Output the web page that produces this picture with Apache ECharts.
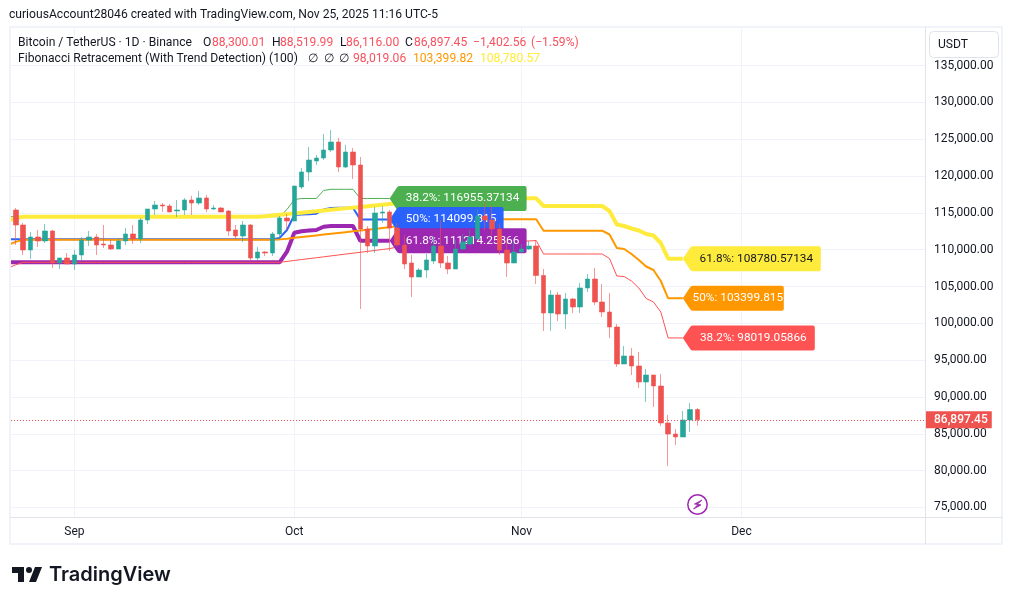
<!DOCTYPE html>
<html><head><meta charset="utf-8">
<style>html,body{margin:0;padding:0;background:#fff}#c{width:1013px;height:605px}</style>
<script src="https://cdn.jsdelivr.net/npm/echarts@6/dist/echarts.min.js"></script>
</head><body><div id="c"></div>
<script>
const startDay = '2025-08-24';
const opens = [115389,113353,109959,111724,111180,112538,108194,108873,108058,109280,111316,111724,110773,110638,110094,111180,112131,111452,114031,115525,116068,115932,115253,115389,116747,116339,117018,115525,115660,115253,112674,111859,113353,108874,109688,109553,112132,114303,113896,118512,120548,122041,122449,123534,124620,121227,123263,121498,112810,110503,114982,115118,112946,110638,108195,106294,107244,108466,110502,108195,107380,110095,110774,111453,114575,114032,112810,109960,108195,109688,110095,110502,106500,101406,103849,101270,103306,102220,104800,106021,102899,101541,99505,94482,95568,94211,92039,92989,91495,86473,84980,84573,86880,88300.01];
const closes = [113353,109959,111724,111180,112538,108194,108873,108058,109280,111316,111724,110638,110638,110094,111180,112131,111452,114031,115525,116068,115932,115117,115389,116747,116339,117018,115525,115660,115117,112538,111859,113353,108874,109688,109553,112132,114303,113896,118648,120548,122177,122449,123534,124620,121227,123263,121498,112810,110503,114982,115118,112946,110638,108059,106294,107244,108602,110502,108195,107380,110095,111046,111724,114575,114032,112810,109960,108195,109688,110095,110502,106500,101406,103849,101270,103306,102220,104800,106021,102899,101541,99505,94482,95568,94211,92039,92989,91495,86473,84980,84573,86880,88300.01,86897.45];
const lows = [110638,109280,108737,110366,110909,107516,107379,108058,107244,108465,110502,109280,110230,109959,110094,110638,110773,110909,113488,114710,115117,115117,114439,114710,114710,116068,115117,115389,115117,111859,111452,111046,108602,108602,109145,109145,111453,112675,113896,118240,119326,121498,122177,123263,120548,121091,119598,101950,109552,109552,113625,109824,110411,107380,103579,106294,106158,108059,107516,106701,107380,109960,110638,111453,112675,111996,109281,106294,108195,109688,109960,105344,98962,98962,100320,99234,101406,101406,104257,102492,100863,98012,94075,94482,92989,91224,89324,88645,86066,80636,83487,84573,85251,86116];
const highs = [115660,113624,112402,112674,113488,112674,108873,109552,109959,111724,112538,112131,113353,111316,111588,112945,113353,114303,115525,116611,116339,116204,116747,117018,117290,117968,117425,116068,115796,115389,113353,113896,113489,110367,109824,112403,114575,114846,118648,121091,123942,122856,125706,126250,125164,124213,123806,122584,113218,115796,115933,115390,113625,111996,109281,107516,109417,111860,114032,109145,111317,112131,112675,115525,116475,116068,113580,111317,111181,110774,111181,111315,107379,104528,104257,104121,103442,105478,106700,107515,105342,104121,99912,96926,96654,96112,93804,92989,93125,87559,85659,88102,89188,88519.99];

// fib level series; index 0 is the bar before startDay
const fib382Up = [114478,114478,114478,114478,114478,114478,114478,114478,114478,114478,114478,114478,114478,114478,114478,114478,114478,114478,114478,114478,114478,114478,114478,114478,114478,114478,114478,114478,114478,114478,114478,114478,114478,114478,114478,114478,114478,114478,115457,116800,116955,116955,116955,118036,118199,118199,118199,118199,116955.37134,116955.37134,116955.37134,116955.37134,116955.37134];
const fib50Up = [111420,111420,111420,111420,111420,111420,111420,111420,111420,111420,111420,111420,111420,111420,111420,111420,111420,111420,111420,111420,111420,111420,111420,111420,111420,111420,111420,111420,111420,111420,111420,111420,111420,111420,111420,111420,111420,111600,112673,114724,114778,114805,114887,115457,115660,115700,115700,115700,114099.815,114099.815,114099.815,114099.815,114099.815];
const fib618Up = [108290,108290,108290,108290,108290,108290,108290,108290,108290,108290,108290,108290,108290,108290,108290,108290,108290,108290,108290,108290,108290,108290,108290,108290,108290,108290,108290,108290,108290,108290,108290,108290,108290,108290,108290,108290,108290,108290,109728,112293,112510,112606,112673,113121,113216,113216,113216,113216,111214.25866,111214.25866,111214.25866,111214.25866,111214.25866];
const fib382Down = [107515,107950,108290,108290,108290,108290,108290,108290,108290,108290,108290,108290,108290,108290,108290,108290,108290,108290,108290,108290,108290,108290,108290,108290,108290,108290,108290,108290,108290,108290,108290,108290,108290,108290,108290,108290,108290,108290,108410,108535,108660,108785,108905,109030,109155,109280,109405,109525,109650,109775,109900,110025,110150,110350,110500,110650,110800,110950,111080,111180,111180,111180,111180,111180,111180,111180,111180,111180,111180,111180,111180,111180,111248,109416,109416,109416,109416,109416,109416,109416,109416,109416,108804,106428,106360,105749,104799,103374,102899,101541,98019.05866,98019.05866,98019.05866];
const fib50Down = [
  110664,111058,111357,111357,111357,111357,111357,111357,111357,111357,
  111357,111357,111357,111357,111357,111357,111357,111357,111357,111357,
  111357,111357,111357,111357,111357,111357,111357,111357,111357,111357,
  111357,111357,111357,111357,111357,111357,111357,111400,111500,111610,
  111720,111830,111940,112050,112160,112270,112380,112490,112600,112710,
  112820,112930,113040,113170,113320,113470,113620,113770,113920,114050,
  114126,114126,114126,114126,114126,114126,114126,114126,114126,114126,
  114126,114126,114126,112580,112580,112580,112580,112580,112580,112580,
  112580,112580,112063,110230,110094,109416,108601,107719,107244,105750,
  103399.815,103399.815,103399.815];
const fib618Down = [
  113964,114275,114478,114478,114478,114478,114478,114478,114478,114478,
  114478,114478,114478,114478,114478,114478,114478,114478,114478,114478,
  114478,114478,114478,114478,114478,114478,114478,114478,114478,114478,
  114478,114478,114478,114478,114478,114540,114640,114735,114830,114930,
  115030,115125,115220,115320,115415,115510,115610,115710,115805,115900,
  116000,116100,116200,116300,116420,116540,116660,116780,116900,116977,
  116977,116977,116977,116977,116977,116977,116977,116977,116977,116977,
  116977,116977,116977,115932,115932,115932,115932,115932,115932,115932,
  115932,115932,115253,113420,113216,112876,112606,112130,111927,110908,
  108780.57134,108780.57134,108780.57134];

const priceTicks = [75000,80000,85000,90000,95000,100000,105000,110000,115000,120000,125000,130000,135000];
const monthTicks = ['2025-09-01','2025-10-01','2025-11-01','2025-12-01'];
const monthNames = ['Sep','Oct','Nov','Dec'];
const lastPrice = 86897.45;
const labelTexts = ['38.2%: 116955.37134','50%: 114099.815','61.8%: 111214.25866','61.8%: 108780.57134','50%: 103399.815','38.2%: 98019.05866'];

const DAY = 86400000;
const t0 = Date.parse(startDay);
const candleData = opens.map((o,i)=>[i,o,closes[i],lows[i],highs[i]]);
const monthIdx = monthTicks.map(d=>(Date.parse(d)-t0)/DAY);
const FONT = 'Roboto';
const RED='#ef5350', GREEN='#26a69a';

function tag(w){const h=25;return `path://M0,12.5 L7,2 Q8,0 10,0 L${w-2},0 Q${w},0 ${w},2 L${w},${h-2} Q${w},${h} ${w-2},${h} L10,${h} Q8,${h} 7,${h-2} Z`;}
function fibSeries(vals,color,width,text,w,textColor,z){
  const pts = vals.map((v,i)=>[i-1,v]);
  const last = pts[pts.length-1];
  return {type:'line',data:pts,showSymbol:false,clip:true,z:z,silent:true,
    lineStyle:{color:color,width:width},itemStyle:{color:color},
    markPoint:{z:8,silent:true,animation:false,data:[{coord:last,
      symbol:tag(w),symbolSize:[w,25],symbolOffset:[w/2,0],symbolKeepAspect:false,
      itemStyle:{color:color},
      label:{show:true,position:'inside',offset:[4.5,0],formatter:text,color:textColor,fontFamily:FONT,fontSize:11.8}}]}};
}
const hdr = (text,x,y,color,size)=>({type:'text',x:x,y:y,z:20,style:{text,fill:color||'#131722',font:`${size||12.12}px ${FONT}`}});
const legend1=[['Bitcoin / TetherUS · 1D · Binance',18],['O',203],['H',272],['L',340],['C',405]];
const legend1v=[['88,300.01',212],['88,519.99',280],['86,116.00',346],['86,897.45',414],['−1,402.56',473],['(−1.59%)',531]];

const chart = echarts.init(document.getElementById('c'),null,{renderer:'canvas'});
chart.setOption({
  animation:false,backgroundColor:'#fff',
  textStyle:{fontFamily:FONT},
  grid:{left:11,top:28,width:914,height:489,containLabel:false},
  xAxis:{type:'value',min:-0.65,max:124.04,
    axisLine:{show:false,onZero:false},axisTick:{show:false,customValues:monthIdx},
    splitLine:{show:true,customValues:monthIdx,lineStyle:{color:'#f0f3fa',width:1}},
    axisLabel:{customValues:monthIdx,margin:9,fontSize:12,color:'#131722',fontFamily:FONT,
      formatter:v=>monthNames[monthIdx.indexOf(v)]||''}},
  yAxis:{type:'value',position:'right',min:73710,max:140097,
    axisLine:{show:false},axisTick:{show:false,customValues:priceTicks},
    splitLine:{show:true,customValues:priceTicks,lineStyle:{color:'#f0f3fa',width:1}},
    axisLabel:{customValues:priceTicks,margin:9,fontSize:12,color:'#131722',fontFamily:FONT,padding:[2,0,0,0],
      formatter:v=>v.toLocaleString('en-US',{minimumFractionDigits:2,maximumFractionDigits:2})}},
  series:[
    fibSeries(fib382Up,'#4caf50',1,labelTexts[0],137,'#fff',2),
    fibSeries(fib50Up,'#2962ff',2,labelTexts[1],114,'#fff',3),
    fibSeries(fib618Up,'#9c27b0',4,labelTexts[2],137,'#fff',4),
    fibSeries(fib382Down,'#ff5252',1,labelTexts[5],132,'#fff',5),
    fibSeries(fib50Down,'#ff9800',2,labelTexts[4],101,'#fff',6),
    fibSeries(fib618Down,'#ffeb3b',4,labelTexts[3],138,'#131722',7),
    {type:'candlestick',data:candleData,barWidth:5,z:10,silent:true,
      itemStyle:{color:GREEN,color0:RED,borderColor:GREEN,borderColor0:RED,borderColorDoji:RED,borderWidth:0.6},
      markLine:{z:12,silent:true,symbol:'none',animation:false,
        lineStyle:{color:RED,type:[1,2],width:1},
        label:{show:true,position:'end',distance:1,formatter:()=>lastPrice.toLocaleString('en-US'),
          color:'#fff',backgroundColor:RED,fontFamily:FONT,fontSize:12,padding:[3,4,2,8],fontWeight:500},
        data:[{yAxis:lastPrice}]}}
  ],
  graphic:[
    hdr('curiousAccount28046 created with TradingView.com, Nov 25, 2025 11:16 UTC-5',9,9),
    {type:'rect',z:19,shape:{x:10,y:27,width:992,height:517},style:{fill:'none',stroke:'#f0f3fa',lineWidth:2}},
    {type:'line',z:19,shape:{x1:925.5,y1:27,x2:925.5,y2:544},style:{stroke:'#e0e3eb',lineWidth:1}},
    {type:'line',z:19,shape:{x1:10,y1:517.5,x2:1002,y2:517.5},style:{stroke:'#e0e3eb',lineWidth:1}},
    {type:'rect',z:19,shape:{x:929.5,y:31.5,width:69,height:26,r:4},style:{fill:'#fff',stroke:'#e0e3eb',lineWidth:1}},
    hdr('USDT',938,39),
    ...legend1.map(a=>hdr(a[0],a[1],37)),
    ...legend1v.map(a=>hdr(a[0],a[1],37,'#f7525f')),
    hdr('Fibonacci Retracement (With Trend Detection) (100)',18,53),
    hdr('∅',308,53),hdr('∅',324,53),hdr('∅',339,53),
    hdr('98,019.06',353,53,'#f7525f'),hdr('103,399.82',413,53,'#ff9800'),hdr('108,780.57',480,53,'#ffeb3b'),
    {type:'polygon',z:20,x:10,y:561,shape:{points:[[14,6],[2,6],[2,12],[8,12],[8,21],[14,21]]},style:{fill:'#131722'}},
    {type:'polygon',z:20,x:10,y:561,shape:{points:[[26,21],[19,21],[25,6],[32,6]]},style:{fill:'#131722'}},
    {type:'circle',z:20,x:10,y:561,shape:{cx:19,cy:9,r:3},style:{fill:'#131722'}},
    {type:'text',z:20,x:49,y:565,style:{text:'TradingView',fill:'#131722',font:'600 20px Inter'}},
    {type:'circle',z:20,shape:{cx:697.5,cy:504.5,r:9.7},style:{fill:'#fff',stroke:'#9c27b0',lineWidth:1.5}},
    {type:'polygon',z:20,shape:{points:[[702,500],[694.5,504],[698,504.5],[693.5,509],[701,505],[697.5,504]]},style:{fill:'#9c27b0',stroke:'#9c27b0',lineWidth:0.8}}
  ]
});
</script></body></html>
